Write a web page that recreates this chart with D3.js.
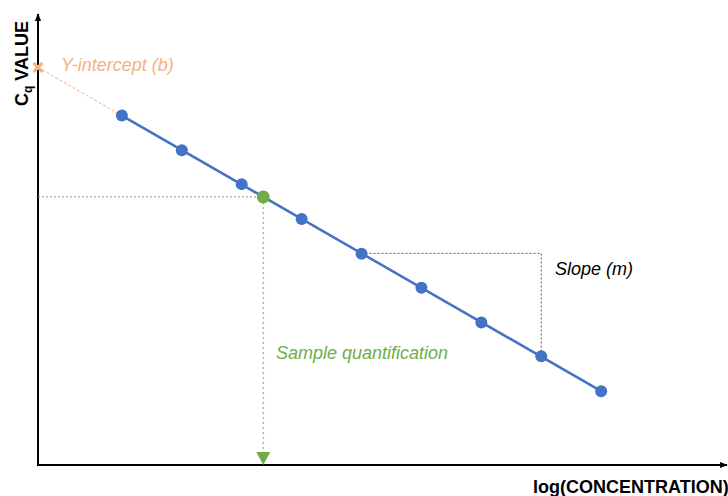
<!DOCTYPE html>
<html>
<head>
<meta charset="utf-8">
<script src="https://cdn.jsdelivr.net/npm/d3@7"></script>
<style>
  html, body { margin: 0; padding: 0; background: #fff; }
  svg { display: block; font-family: "Liberation Sans", Arial, sans-serif; }
</style>
</head>
<body>
<svg id="chart" width="728" height="496"></svg>
<script>
// Standard curve: log(concentration) vs Cq value
const logConc = [1.4, 2.4, 3.4, 4.4, 5.4, 6.4, 7.4, 8.4, 9.4];
const cqValues = [34.2, 30.8, 27.5, 24.1, 20.7, 17.4, 14.0, 10.7, 7.3];
const sampleLogConc = [3.76];
const labels = ["Y-intercept (b)", "Slope (m)", "Sample quantification"];
const axisTitles = ["log(CONCENTRATION)", "C", "q", " VALUE"];

const svg = d3.select("#chart");
const origin = { x: 38, y: 465 };

const x = d3.scaleLinear().domain([0, 11.5]).range([origin.x, 727]);
const y = d3.scaleLinear().domain([0, 44]).range([origin.y + 1, 15]);

// least-squares fit of the standards
const n = logConc.length;
const mx = d3.mean(logConc), my = d3.mean(cqValues);
const m = d3.sum(logConc, (v, i) => (v - mx) * (cqValues[i] - my)) /
          d3.sum(logConc, v => (v - mx) * (v - mx));
const b = my - m * mx;
const fit = v => b + m * v;

const blue = "#4472C4", green = "#70AD47", orange = "#F4B183", grey = "#595959";

// arrow markers
const defs = svg.append("defs");
defs.append("marker").attr("id", "arr").attr("viewBox", "0 0 10 10")
  .attr("refX", 9).attr("refY", 5).attr("markerWidth", 8).attr("markerHeight", 8)
  .attr("markerUnits", "userSpaceOnUse").attr("orient", "auto")
  .append("path").attr("d", "M0,1 L10,5 L0,9 Z").attr("fill", "#000");

// axes
const ax0 = origin.x, ay0 = origin.y;
svg.append("line").attr("x1", ax0).attr("y1", ay0 + 1).attr("x2", ax0).attr("y2", 14)
  .attr("stroke", "#000").attr("stroke-width", 2).attr("marker-end", "url(#arr)");
svg.append("line").attr("x1", ax0 - 1).attr("y1", ay0).attr("x2", x(11.5)).attr("y2", ay0)
  .attr("stroke", "#000").attr("stroke-width", 2).attr("marker-end", "url(#arr)");

// extrapolation to the y-intercept
svg.append("line").attr("x1", x(0)).attr("y1", y(b)).attr("x2", x(logConc[0])).attr("y2", y(fit(logConc[0])))
  .attr("stroke", orange).attr("stroke-width", 1).attr("stroke-dasharray", "3,2");

// sample guides
const sx = sampleLogConc[0], sy = fit(sx);
svg.append("line").attr("x1", x(0)).attr("y1", y(sy)).attr("x2", x(sx)).attr("y2", y(sy))
  .attr("stroke", "#7f9f6a").attr("stroke-width", 1).attr("stroke-dasharray", "2,2");
svg.append("line").attr("x1", x(sx)).attr("y1", y(sy)).attr("x2", x(sx)).attr("y2", ay0 - 12)
  .attr("stroke", green).attr("stroke-width", 1.6).attr("stroke-dasharray", "2,3").attr("opacity", 0.65);
svg.append("path")
  .attr("d", `M${x(sx) - 7},${ay0 - 13} L${x(sx) + 7},${ay0 - 13} L${x(sx)},${ay0} Z`)
  .attr("fill", green);

// slope triangle
const i0 = 4, i1 = 7;
svg.append("path")
  .attr("d", `M${x(logConc[i0])},${y(fit(logConc[i0]))} H${x(logConc[i1])} V${y(fit(logConc[i1]))}`)
  .attr("fill", "none").attr("stroke", grey).attr("stroke-width", 1).attr("stroke-dasharray", "2,2");

// fitted line
svg.append("line")
  .attr("x1", x(logConc[0])).attr("y1", y(fit(logConc[0])))
  .attr("x2", x(logConc[n - 1])).attr("y2", y(fit(logConc[n - 1])))
  .attr("stroke", blue).attr("stroke-width", 2.5);

// standards
svg.selectAll("circle.std").data(logConc).join("circle").attr("class", "std")
  .attr("cx", d => x(d)).attr("cy", (d, i) => y(cqValues[i])).attr("r", 6).attr("fill", blue);

// sample point
svg.append("circle").attr("cx", x(sx)).attr("cy", y(sy)).attr("r", 6.5).attr("fill", green);

// y-intercept marker
const ix = x(0), iy = y(b);
svg.append("path").attr("d", `M${ix - 4.5},${iy - 4.5} L${ix + 4.5},${iy + 4.5} M${ix - 4.5},${iy + 4.5} L${ix + 4.5},${iy - 4.5}`)
  .attr("stroke", orange).attr("stroke-width", 3);

// annotations
svg.append("text").attr("x", 61).attr("y", 71).attr("fill", orange)
  .attr("font-size", 18).attr("font-style", "italic").text(labels[0]);
svg.append("text").attr("x", 555).attr("y", 275).attr("fill", "#000")
  .attr("font-size", 18).attr("font-style", "italic").text(labels[1]);
svg.append("text").attr("x", 276).attr("y", 359).attr("fill", green)
  .attr("font-size", 18).attr("font-style", "italic").text(labels[2]);

// axis titles
svg.append("text").attr("x", 533).attr("y", 493).attr("font-size", 18).attr("font-weight", "bold")
  .text(axisTitles[0]);
const yt = svg.append("text").attr("transform", "translate(28,106) rotate(-90)")
  .attr("font-size", 18).attr("font-weight", "bold");
yt.append("tspan").text(axisTitles[1]);
yt.append("tspan").attr("font-size", 12).attr("dy", 4).text(axisTitles[2]);
yt.append("tspan").attr("dy", -4).text(axisTitles[3]);
</script>
</body>
</html>
